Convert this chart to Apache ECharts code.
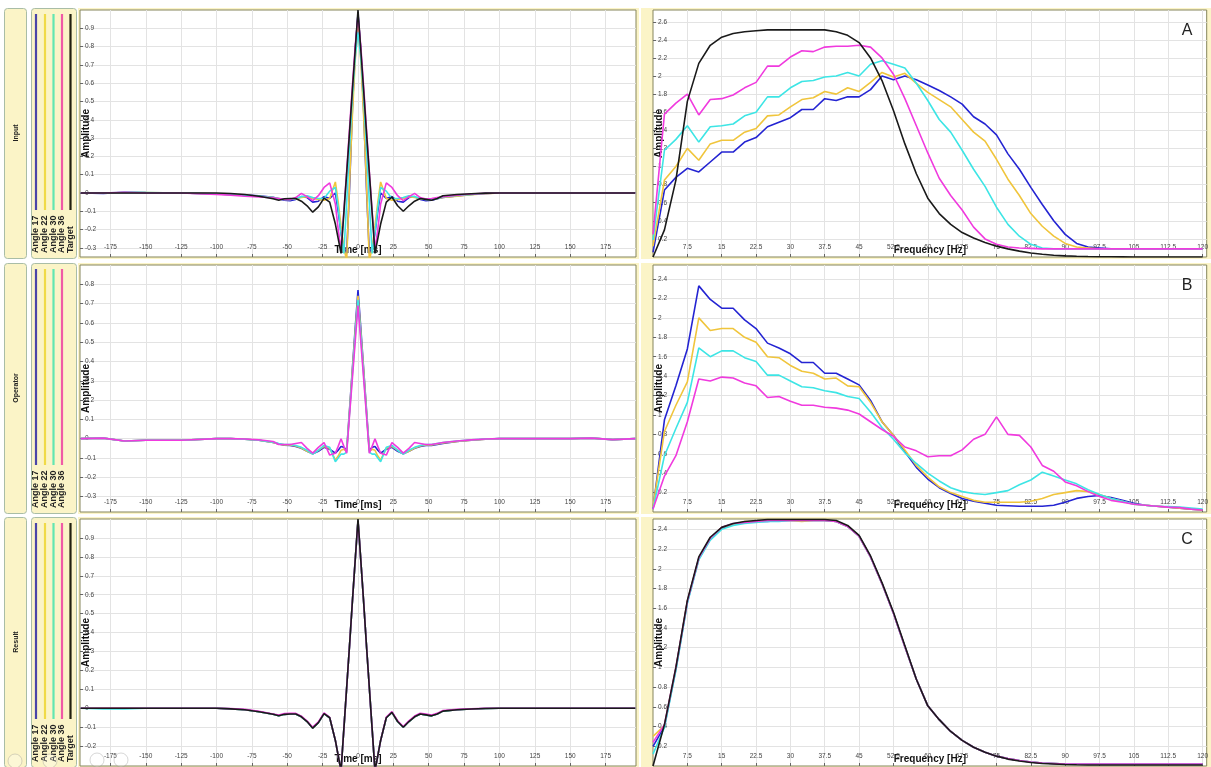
<!DOCTYPE html>
<html>
<head>
<meta charset="utf-8">
<title>Wavelet matching - Input / Operator / Result</title>
<script src="https://cdn.jsdelivr.net/npm/echarts@6/dist/echarts.min.js"></script>
<style>
    html, body { margin: 0; padding: 0; background: #fff; }
    #main { width: 1211px; height: 767px; }
</style>
</head>
<body>
<div id="main"></div>
<script>
// ---- data ----
var timeMs = [-196, -180, -165, -150, -125, -100, -90, -80, -70, -60,
    -56, -52, -48, -44, -40, -36, -32, -28, -24, -20,
    -16, -14, -12, -10, -8, -6, -4, -2, 0, 2, 4, 6, 8, 10, 12, 14, 16,
    20, 24, 28, 32, 36, 40, 44, 48, 52, 56,
    60, 70, 80, 90, 100, 125, 150, 165, 180, 196];

// Input, time domain
var inA17 = [0, -0.003, 0.004, 0.002, 0, -0.005, -0.008, -0.012, -0.016, -0.024,
    -0.032, -0.04, -0.042, -0.035, -0.02, -0.025, -0.05, -0.045, -0.02, -0.03,
    0.0, -0.1, -0.22, -0.3, -0.33, 0.02, 0.45, 0.78, 0.98, 0.78, 0.45, 0.02, -0.33, -0.3, -0.22, -0.1, 0.0,
    -0.03, -0.02, -0.045, -0.05, -0.025, -0.02, -0.035, -0.042, -0.04, -0.032,
    -0.024, -0.016, -0.008, -0.003, 0, 0, 0, 0, 0, 0];
var inA22 = [0, 0, 0.002, 0.002, 0, -0.005, -0.009, -0.013, -0.018, -0.025,
    -0.03, -0.035, -0.035, -0.032, -0.025, -0.02, -0.03, -0.035, -0.04, -0.03,
    0.06, -0.05, -0.18, -0.3, -0.37, 0.05, 0.42, 0.72, 0.92, 0.72, 0.42, 0.05, -0.37, -0.3, -0.18, -0.05, 0.06,
    -0.03, -0.04, -0.035, -0.03, -0.02, -0.025, -0.032, -0.035, -0.035, -0.03,
    -0.025, -0.018, -0.01, -0.004, 0, 0, 0, 0, 0, 0];
var inA30 = [0, 0, 0.003, 0.002, 0, -0.006, -0.01, -0.014, -0.018, -0.025,
    -0.03, -0.035, -0.035, -0.03, -0.02, -0.015, -0.025, -0.03, -0.03, 0.01,
    0.03, -0.08, -0.22, -0.33, -0.05, 0.25, 0.52, 0.74, 0.88, 0.74, 0.52, 0.25, -0.05, -0.33, -0.22, -0.08, 0.03,
    0.01, -0.03, -0.03, -0.025, -0.015, -0.02, -0.03, -0.035, -0.035, -0.03,
    -0.022, -0.014, -0.008, -0.003, 0, 0, 0, 0, 0, 0];
var inA36 = [0, 0, 0.004, 0, 0, -0.008, -0.012, -0.018, -0.022, -0.026,
    -0.03, -0.035, -0.035, -0.025, -0.002, -0.02, -0.042, -0.015, 0.03, 0.055,
    -0.06, -0.2, -0.31, -0.1, 0.12, 0.35, 0.58, 0.8, 0.97, 0.8, 0.58, 0.35, 0.12, -0.1, -0.31, -0.2, -0.06,
    0.055, 0.03, -0.015, -0.042, -0.02, -0.002, -0.025, -0.033, -0.03, -0.025,
    -0.02, -0.012, -0.006, -0.002, 0, 0, 0, 0, 0, 0];
var inTarget = [0, 0, 0, 0, 0, 0, -0.003, -0.008, -0.018, -0.032,
    -0.04, -0.032, -0.03, -0.03, -0.045, -0.07, -0.105, -0.076, -0.028, -0.05,
    -0.17, -0.25, -0.33, -0.11, 0.11, 0.33, 0.56, 0.78, 1.0, 0.78, 0.56, 0.33, 0.11, -0.11, -0.33, -0.25, -0.17,
    -0.05, -0.022, -0.07, -0.1, -0.07, -0.045, -0.03, -0.035, -0.04, -0.03,
    -0.015, -0.008, -0.004, -0.001, 0, 0, 0, 0, 0, 0];

// Operator, time domain
var opA17 = [0, 0.003, -0.012, -0.008, -0.008, 0, 0, -0.003, -0.008, -0.02,
    -0.028, -0.034, -0.035, -0.04, -0.05, -0.065, -0.078, -0.065, -0.045, -0.055,
    -0.075, -0.06, -0.04, -0.045, -0.06, 0.15, 0.36, 0.57, 0.77, 0.57, 0.36, 0.15, -0.06, -0.045, -0.04, -0.06, -0.075,
    -0.055, -0.045, -0.065, -0.078, -0.065, -0.05, -0.04, -0.035, -0.035, -0.03,
    -0.025, -0.015, -0.008, -0.003, 0, 0, 0, 0.003, -0.005, 0];
var opA22 = [0, 0.003, -0.012, -0.008, -0.008, 0, 0, -0.003, -0.008, -0.02,
    -0.028, -0.032, -0.033, -0.038, -0.048, -0.065, -0.078, -0.06, -0.04, -0.05,
    -0.11, -0.09, -0.06, -0.055, -0.065, 0.14, 0.35, 0.55, 0.74, 0.55, 0.35, 0.14, -0.065, -0.055, -0.06, -0.09, -0.11,
    -0.05, -0.04, -0.06, -0.078, -0.065, -0.048, -0.038, -0.033, -0.032, -0.028,
    -0.022, -0.014, -0.008, -0.003, 0, 0, 0, 0.003, -0.005, 0];
var opA30 = [0, 0.003, -0.012, -0.008, -0.008, 0, 0, -0.003, -0.008, -0.018,
    -0.025, -0.03, -0.03, -0.035, -0.045, -0.06, -0.08, -0.06, -0.035, -0.045,
    -0.12, -0.1, -0.08, -0.08, -0.07, 0.13, 0.33, 0.53, 0.72, 0.53, 0.33, 0.13, -0.07, -0.08, -0.08, -0.1, -0.12,
    -0.045, -0.035, -0.06, -0.08, -0.06, -0.045, -0.035, -0.03, -0.03, -0.025,
    -0.02, -0.012, -0.006, -0.002, 0, 0, 0, 0.003, -0.005, 0];
var opA36 = [0, 0.003, -0.012, -0.008, -0.008, 0, 0, -0.002, -0.006, -0.015,
    -0.03, -0.03, -0.03, -0.025, -0.02, -0.05, -0.075, -0.045, -0.02, -0.085,
    -0.075, -0.04, 0.0, -0.04, -0.075, 0.12, 0.31, 0.5, 0.69, 0.5, 0.31, 0.12, -0.075, -0.04, 0.0, -0.04, -0.075,
    -0.085, -0.02, -0.045, -0.075, -0.05, -0.02, -0.025, -0.03, -0.03, -0.025,
    -0.02, -0.012, -0.006, -0.002, 0, 0, 0, 0.003, -0.005, 0];

// Result, time domain
var resA17 = [0, 0, 0, 0, 0, 0, -0.003, -0.008, -0.018, -0.032,
    -0.04, -0.032, -0.03, -0.03, -0.045, -0.07, -0.104, -0.076, -0.028, -0.05,
    -0.17, -0.25, -0.33, -0.11, 0.11, 0.33, 0.56, 0.78, 0.99, 0.78, 0.56, 0.33, 0.11, -0.11, -0.33, -0.25, -0.17,
    -0.05, -0.022, -0.07, -0.1, -0.07, -0.045, -0.03, -0.035, -0.04, -0.03,
    -0.015, -0.008, -0.004, -0.001, 0, 0, 0, 0, 0, 0];
var resA22 = [0, 0, 0, 0, 0, 0, -0.003, -0.008, -0.018, -0.032,
    -0.04, -0.032, -0.03, -0.03, -0.045, -0.07, -0.104, -0.076, -0.028, -0.05,
    -0.17, -0.25, -0.33, -0.11, 0.11, 0.33, 0.56, 0.78, 0.99, 0.78, 0.56, 0.33, 0.11, -0.11, -0.33, -0.25, -0.17,
    -0.05, -0.022, -0.07, -0.1, -0.07, -0.045, -0.03, -0.035, -0.04, -0.03,
    -0.015, -0.008, -0.004, -0.001, 0, 0, 0, 0, 0, 0];
var resA30 = [0, -0.003, -0.003, 0, 0, 0, -0.003, -0.008, -0.018, -0.032,
    -0.04, -0.032, -0.03, -0.03, -0.045, -0.07, -0.104, -0.076, -0.028, -0.05,
    -0.17, -0.25, -0.33, -0.11, 0.11, 0.33, 0.56, 0.78, 0.99, 0.78, 0.56, 0.33, 0.11, -0.11, -0.33, -0.25, -0.17,
    -0.05, -0.022, -0.07, -0.1, -0.07, -0.045, -0.03, -0.035, -0.04, -0.03,
    -0.015, -0.008, -0.004, -0.001, 0, 0, 0, 0, 0, 0];
var resA36 = [0, 0, 0, 0, 0, 0, -0.002, -0.006, -0.016, -0.03,
    -0.036, -0.028, -0.026, -0.027, -0.042, -0.068, -0.1, -0.072, -0.025, -0.048,
    -0.17, -0.25, -0.33, -0.11, 0.11, 0.33, 0.56, 0.78, 0.99, 0.78, 0.56, 0.33, 0.11, -0.11, -0.33, -0.25, -0.17,
    -0.046, -0.018, -0.066, -0.097, -0.066, -0.041, -0.026, -0.031, -0.036, -0.027,
    -0.012, -0.006, -0.003, 0, 0, 0, 0, 0, 0, 0];
var resTarget = [0, 0, 0, 0, 0, 0, -0.003, -0.008, -0.018, -0.032,
    -0.04, -0.032, -0.03, -0.03, -0.045, -0.07, -0.105, -0.076, -0.028, -0.05,
    -0.17, -0.25, -0.33, -0.11, 0.11, 0.33, 0.56, 0.78, 1.0, 0.78, 0.56, 0.33, 0.11, -0.11, -0.33, -0.25, -0.17,
    -0.05, -0.022, -0.07, -0.1, -0.07, -0.045, -0.03, -0.035, -0.04, -0.03,
    -0.015, -0.008, -0.004, -0.001, 0, 0, 0, 0, 0, 0];

var freqHz = [0, 2.5, 5, 7.5, 10, 12.5, 15, 17.5, 20, 22.5, 25, 27.5, 30, 32.5, 35, 37.5, 40, 42.5,
    45, 47.5, 50, 52.5, 55, 57.5, 60, 62.5, 65, 67.5, 70, 72.5, 75, 77.5, 80, 82.5, 85, 87.5,
    90, 92.5, 95, 97.5, 100, 102.5, 105, 107.5, 110, 112.5, 115, 117.5, 120];

// Input, amplitude spectra
var inSpecA17 = [0.05, 0.74, 0.88, 0.98, 0.94, 1.05, 1.16, 1.16, 1.27, 1.32,
    1.44, 1.49, 1.54, 1.63, 1.63, 1.75, 1.73, 1.77, 1.77, 1.85,
    2.0, 1.96, 2.0, 1.96, 1.9, 1.84, 1.77, 1.69, 1.55, 1.47,
    1.35, 1.14, 0.97, 0.77, 0.58, 0.4, 0.25, 0.15, 0.11, 0.1,
    0.09, 0.09, 0.09, 0.09, 0.09, 0.09, 0.09, 0.09, 0.09];
var inSpecA22 = [0.12, 0.85, 1.0, 1.2, 1.07, 1.25, 1.29, 1.29, 1.38, 1.42,
    1.56, 1.57, 1.66, 1.74, 1.76, 1.83, 1.8, 1.87, 1.83, 1.93,
    2.04, 1.99, 2.03, 1.92, 1.82, 1.74, 1.66, 1.52, 1.38, 1.28,
    1.08, 0.86, 0.68, 0.48, 0.34, 0.23, 0.15, 0.11, 0.1, 0.09,
    0.09, 0.09, 0.09, 0.09, 0.09, 0.09, 0.09, 0.09, 0.09];
var inSpecA30 = [0.19, 1.18, 1.3, 1.45, 1.27, 1.44, 1.45, 1.47, 1.56, 1.6,
    1.77, 1.77, 1.87, 1.94, 1.95, 1.99, 2.0, 2.04, 2.0, 2.13,
    2.17, 2.13, 2.09, 1.92, 1.73, 1.52, 1.38, 1.18, 0.97, 0.78,
    0.55, 0.36, 0.23, 0.14, 0.1, 0.09, 0.09, 0.09, 0.09, 0.09,
    0.09, 0.09, 0.09, 0.09, 0.09, 0.09, 0.09, 0.09, 0.09];
var inSpecA36 = [0.25, 1.58, 1.7, 1.8, 1.57, 1.74, 1.75, 1.79, 1.87, 1.93,
    2.11, 2.11, 2.21, 2.28, 2.27, 2.32, 2.33, 2.33, 2.34, 2.32,
    2.2, 2.02, 1.75, 1.45, 1.15, 0.87, 0.68, 0.52, 0.33, 0.2,
    0.14, 0.11, 0.1, 0.095, 0.09, 0.09, 0.09, 0.09, 0.09, 0.09,
    0.09, 0.09, 0.09, 0.09, 0.09, 0.09, 0.09, 0.09, 0.09];
var inSpecTarget = [0, 0.3, 0.85, 1.72, 2.14, 2.34, 2.43, 2.47, 2.49, 2.5,
    2.51, 2.51, 2.51, 2.51, 2.51, 2.51, 2.49, 2.45, 2.37, 2.2,
    1.95, 1.62, 1.25, 0.92, 0.65, 0.48, 0.36, 0.27, 0.21, 0.16,
    0.12, 0.09, 0.065, 0.045, 0.03, 0.02, 0.012, 0.008, 0.005, 0.003,
    0.002, 0.001, 0, 0, 0, 0, 0, 0, 0];

// Operator, amplitude spectra
var opSpecA17 = [0.03, 0.95, 1.3, 1.68, 2.33, 2.19, 2.1, 2.1, 1.98, 1.89,
    1.74, 1.69, 1.63, 1.54, 1.54, 1.43, 1.43, 1.37, 1.31, 1.15,
    0.93, 0.79, 0.62, 0.46, 0.34, 0.25, 0.19, 0.14, 0.11, 0.09,
    0.07, 0.065, 0.06, 0.06, 0.06, 0.07, 0.1, 0.14, 0.16, 0.17,
    0.15, 0.12, 0.09, 0.07, 0.06, 0.05, 0.04, 0.03, 0.02];
var opSpecA22 = [0.05, 0.83, 1.1, 1.34, 2.0, 1.87, 1.89, 1.89, 1.8, 1.75,
    1.6, 1.59, 1.51, 1.45, 1.43, 1.37, 1.38, 1.3, 1.29, 1.13,
    0.93, 0.79, 0.64, 0.48, 0.36, 0.26, 0.2, 0.16, 0.12, 0.1,
    0.1, 0.1, 0.1, 0.11, 0.14, 0.18, 0.2, 0.22, 0.21, 0.18,
    0.14, 0.11, 0.08, 0.07, 0.06, 0.05, 0.04, 0.03, 0.02];
var opSpecA30 = [0.03, 0.58, 0.86, 1.13, 1.69, 1.6, 1.66, 1.66, 1.59, 1.55,
    1.41, 1.41, 1.35, 1.29, 1.28, 1.25, 1.23, 1.19, 1.17, 1.03,
    0.87, 0.75, 0.61, 0.5, 0.4, 0.32, 0.25, 0.21, 0.19, 0.18,
    0.2, 0.22, 0.28, 0.33, 0.41, 0.37, 0.33, 0.29, 0.23, 0.18,
    0.14, 0.11, 0.08, 0.07, 0.06, 0.055, 0.05, 0.04, 0.03];
var opSpecA36 = [0.03, 0.37, 0.58, 0.93, 1.37, 1.35, 1.39, 1.38, 1.33, 1.3,
    1.18, 1.19, 1.14, 1.1, 1.1, 1.08, 1.07, 1.05, 1.01, 0.93,
    0.85, 0.78, 0.67, 0.63, 0.57, 0.58, 0.58, 0.64, 0.75, 0.8,
    0.98, 0.8, 0.79, 0.67, 0.48, 0.42, 0.31, 0.27, 0.21, 0.16,
    0.12, 0.1, 0.08, 0.07, 0.06, 0.05, 0.045, 0.03, 0.02];

// Result, amplitude spectra
var resSpecA17 = [0.2, 0.4, 0.98, 1.66, 2.1, 2.3, 2.41, 2.45, 2.47, 2.48,
    2.48, 2.49, 2.49, 2.49, 2.49, 2.49, 2.48, 2.43, 2.33, 2.12,
    1.85, 1.55, 1.21, 0.88, 0.61, 0.47, 0.35, 0.26, 0.19, 0.14,
    0.1, 0.075, 0.055, 0.04, 0.03, 0.025, 0.02, 0.02, 0.02, 0.02,
    0.02, 0.02, 0.02, 0.02, 0.02, 0.02, 0.02, 0.02, 0.02];
var resSpecA22 = [0.3, 0.41, 0.99, 1.67, 2.1, 2.31, 2.42, 2.45, 2.48, 2.48,
    2.49, 2.49, 2.49, 2.48, 2.49, 2.49, 2.48, 2.43, 2.33, 2.12,
    1.85, 1.55, 1.21, 0.88, 0.61, 0.47, 0.35, 0.26, 0.19, 0.14,
    0.1, 0.075, 0.055, 0.04, 0.03, 0.025, 0.02, 0.02, 0.02, 0.02,
    0.02, 0.02, 0.02, 0.02, 0.02, 0.02, 0.02, 0.02, 0.02];
var resSpecA30 = [0.12, 0.39, 0.97, 1.65, 2.09, 2.29, 2.4, 2.44, 2.46, 2.47,
    2.48, 2.48, 2.49, 2.49, 2.49, 2.49, 2.48, 2.43, 2.33, 2.12,
    1.85, 1.55, 1.21, 0.88, 0.61, 0.47, 0.35, 0.26, 0.19, 0.14,
    0.1, 0.075, 0.055, 0.04, 0.03, 0.025, 0.02, 0.02, 0.02, 0.02,
    0.02, 0.02, 0.02, 0.02, 0.02, 0.02, 0.02, 0.02, 0.02];
var resSpecA36 = [0.24, 0.42, 1.0, 1.67, 2.11, 2.31, 2.42, 2.46, 2.47, 2.48,
    2.49, 2.49, 2.49, 2.49, 2.49, 2.49, 2.48, 2.43, 2.33, 2.12,
    1.85, 1.55, 1.21, 0.88, 0.61, 0.47, 0.35, 0.26, 0.19, 0.14,
    0.1, 0.075, 0.055, 0.04, 0.03, 0.025, 0.02, 0.02, 0.02, 0.02,
    0.02, 0.02, 0.02, 0.02, 0.02, 0.02, 0.02, 0.02, 0.02];
var resSpecTarget = [0, 0.42, 1.0, 1.68, 2.12, 2.32, 2.42, 2.46, 2.48, 2.49,
    2.5, 2.5, 2.5, 2.5, 2.5, 2.5, 2.49, 2.44, 2.34, 2.13,
    1.86, 1.56, 1.22, 0.88, 0.61, 0.47, 0.35, 0.26, 0.19, 0.14,
    0.1, 0.07, 0.05, 0.035, 0.025, 0.02, 0.015, 0.012, 0.01, 0.01,
    0.01, 0.01, 0.01, 0.01, 0.01, 0.01, 0.01, 0.01, 0.01];

// tick labels
var timeTicks = [-175, -150, -125, -100, -75, -50, -25, 0, 25, 50, 75, 100, 125, 150, 175];
var freqTicks = [7.5, 15, 22.5, 30, 37.5, 45, 52.5, 60, 67.5, 75, 82.5, 90, 97.5, 105, 112.5, 120];
var ampTicksIn = [-0.3, -0.2, -0.1, 0, 0.1, 0.2, 0.3, 0.4, 0.5, 0.6, 0.7, 0.8, 0.9];
var ampTicksOp = [-0.3, -0.2, -0.1, 0, 0.1, 0.2, 0.3, 0.4, 0.5, 0.6, 0.7, 0.8];
var ampTicksRes = [-0.2, -0.1, 0, 0.1, 0.2, 0.3, 0.4, 0.5, 0.6, 0.7, 0.8, 0.9];
var specTicksIn = [0.2, 0.4, 0.6, 0.8, 1, 1.2, 1.4, 1.6, 1.8, 2, 2.2, 2.4, 2.6];
var specTicksOp = [0.2, 0.4, 0.6, 0.8, 1, 1.2, 1.4, 1.6, 1.8, 2, 2.2, 2.4];
var specTicksRes = [0.2, 0.4, 0.6, 0.8, 1, 1.2, 1.4, 1.6, 1.8, 2, 2.2, 2.4];

var rowNames = ['Input', 'Operator', 'Result'];
var panelLetters = ['A', 'B', 'C'];
var legendNames = ['Angle 17', 'Angle 22', 'Angle 30', 'Angle 36', 'Target'];

// ---- styling ----
var lineColors = ['#2424d2', '#f0c53c', '#3de5e5', '#f03ade', '#1a1a1a'];
var legendColors = ['#4a45a8', '#f0da48', '#62e6b2', '#f05aa6', '#22200f'];
var panelFill = '#fbf4c7';
var boxStroke = '#a9bda6';
var plotBorder = '#85855c';
var gridColor = '#e3e3e3';

var rowTop = [10, 265, 519];
var rowH = 247;
var leftX = 80, leftW = 556;
var rightX = 653, rightW = 555;

var nameStyle = {
    fontFamily: 'Liberation Sans', fontWeight: 'bold', fontSize: 10,
    color: '#111', backgroundColor: '#fff', padding: [0, 1]
};

function pairs(xs, ys) {
    return xs.map(function (x, i) { return [x, ys[i]]; });
}

function line(name, color, gi, xs, ys) {
    return {
        name: name, type: 'line', xAxisIndex: gi, yAxisIndex: gi,
        data: pairs(xs, ys), showSymbol: false, symbol: 'none', clip: true,
        lineStyle: { color: color, width: 1.6 }, itemStyle: { color: color },
        silent: true, animation: false
    };
}

function xAxisOf(gi, name, min, max, ticks) {
    return {
        type: 'value', gridIndex: gi, min: min, max: max,
        name: name, nameLocation: 'middle', nameGap: -12, nameMoveOverlap: false,
        nameTextStyle: nameStyle,
        axisLine: { show: false, onZero: false },
        axisTick: { inside: true, length: 3, lineStyle: { color: '#666' }, customValues: ticks },
        axisLabel: { inside: true, margin: 6, fontSize: 6.5, color: '#444', fontFamily: 'Liberation Sans',
            customValues: ticks, hideOverlap: false },
        splitLine: { show: true, lineStyle: { color: gridColor } }
    };
}

function yAxisOf(gi, min, max, ticks) {
    return {
        type: 'value', gridIndex: gi, min: min, max: max,
        name: 'Amplitude', nameLocation: 'middle', nameGap: -11, nameMoveOverlap: false,
        nameTextStyle: nameStyle,
        axisLine: { show: false, onZero: false },
        axisTick: { inside: true, length: 3, lineStyle: { color: '#666' }, customValues: ticks },
        axisLabel: { inside: true, margin: 5, fontSize: 6.5, color: '#444', fontFamily: 'Liberation Sans',
            customValues: ticks, hideOverlap: false },
        splitLine: { show: true, lineStyle: { color: gridColor } }
    };
}

var grids = [], xAxes = [], yAxes = [], series = [], graphics = [];

rowTop.forEach(function (top, r) {
    grids.push({ left: leftX, top: top, width: leftW, height: rowH, show: true,
        backgroundColor: '#fff', borderColor: plotBorder, borderWidth: 1 });
    grids.push({ left: rightX, top: top, width: rightW, height: rowH, show: true,
        backgroundColor: '#fff', borderColor: plotBorder, borderWidth: 1 });
});

// axes: 0/1 input, 2/3 operator, 4/5 result
xAxes.push(xAxisOf(0, 'Time [ms]', -196.5, 196.5, timeTicks));
xAxes.push(xAxisOf(1, 'Frequency [Hz]', 0, 120.9, freqTicks));
xAxes.push(xAxisOf(2, 'Time [ms]', -196.5, 196.5, timeTicks));
xAxes.push(xAxisOf(3, 'Frequency [Hz]', 0, 120.9, freqTicks));
xAxes.push(xAxisOf(4, 'Time [ms]', -196.5, 196.5, timeTicks));
xAxes.push(xAxisOf(5, 'Frequency [Hz]', 0, 120.9, freqTicks));

yAxes.push(yAxisOf(0, -0.35, 1.0, ampTicksIn));
yAxes.push(yAxisOf(1, 0, 2.73, specTicksIn));
yAxes.push(yAxisOf(2, -0.38, 0.9, ampTicksOp));
yAxes.push(yAxisOf(3, 0, 2.545, specTicksOp));
yAxes.push(yAxisOf(4, -0.305, 1.0, ampTicksRes));
yAxes.push(yAxisOf(5, 0, 2.505, specTicksRes));

var inTime = [inA17, inA22, inA30, inA36, inTarget];
var inSpec = [inSpecA17, inSpecA22, inSpecA30, inSpecA36, inSpecTarget];
var opTime = [opA17, opA22, opA30, opA36];
var opSpec = [opSpecA17, opSpecA22, opSpecA30, opSpecA36];
var resTime = [resA17, resA22, resA30, resA36, resTarget];
var resSpec = [resSpecA17, resSpecA22, resSpecA30, resSpecA36, resSpecTarget];

[[inTime, inSpec], [opTime, opSpec], [resTime, resSpec]].forEach(function (rowData, r) {
    rowData[0].forEach(function (ys, i) {
        series.push(line(legendNames[i], lineColors[i], r * 2, timeMs, ys));
    });
    rowData[1].forEach(function (ys, i) {
        series.push(line(legendNames[i], lineColors[i], r * 2 + 1, freqHz, ys));
    });
});

// panel frames, legends and row titles
var legendX = [36, 45, 53.5, 62, 70.5];
rowTop.forEach(function (top, r) {
    var y0 = top - 2, h = rowH + 4;
    graphics.push({ type: 'rect', z: -10, shape: { x: 78, y: y0, width: 561, height: h },
        style: { fill: panelFill, stroke: null } });
    graphics.push({ type: 'rect', z: -10, shape: { x: 641, y: y0, width: 570, height: h },
        style: { fill: panelFill, stroke: null } });
    graphics.push({ type: 'rect', z: -10, shape: { x: 4.5, y: y0 + 0.5, width: 22, height: h - 1, r: 3 },
        style: { fill: panelFill, stroke: boxStroke, lineWidth: 1 } });
    graphics.push({ type: 'rect', z: -10, shape: { x: 31.5, y: y0 + 0.5, width: 45, height: h - 1, r: 3 },
        style: { fill: panelFill, stroke: boxStroke, lineWidth: 1 } });
    graphics.push({ type: 'text', z: 50, x: 16, y: top + 123, rotation: Math.PI / 2,
        style: { text: rowNames[r], fontFamily: 'Liberation Sans', fontWeight: 'bold', fontSize: 7,
            fill: '#222', textAlign: 'center', textVerticalAlign: 'middle' } });
    var n = r === 1 ? 4 : 5;
    for (var i = 0; i < n; i++) {
        graphics.push({ type: 'line', z: 50, shape: { x1: legendX[i], y1: top + 4, x2: legendX[i], y2: top + 200 },
            style: { stroke: legendColors[i], lineWidth: 2.2 } });
        graphics.push({ type: 'text', z: 50, x: legendX[i], y: top + 243, rotation: Math.PI / 2,
            style: { text: legendNames[i], fontFamily: 'Liberation Sans', fontWeight: 'bold', fontSize: 9,
                fill: '#222', textAlign: 'left', textVerticalAlign: 'middle' } });
    }
    graphics.push({ type: 'text', z: 50, x: 1187, y: top + 21,
        style: { text: panelLetters[r], fontFamily: 'Liberation Sans', fontSize: 16,
            fill: '#222', textAlign: 'center', textVerticalAlign: 'middle' } });
});

// faint navigation buttons overlaid at the bottom left
[[15, 761], [50, 761], [97, 760], [121, 760]].forEach(function (p) {
    graphics.push({ type: 'circle', z: 60, shape: { cx: p[0], cy: p[1], r: 7 },
        style: { fill: 'rgba(255,255,255,0.25)', stroke: 'rgba(140,140,140,0.35)', lineWidth: 1 } });
});

var chart = echarts.init(document.getElementById('main'), null, { renderer: 'canvas' });
chart.setOption({
    backgroundColor: '#fff',
    animation: false,
    graphic: graphics,
    grid: grids,
    xAxis: xAxes,
    yAxis: yAxes,
    series: series
});
</script>
</body>
</html>
